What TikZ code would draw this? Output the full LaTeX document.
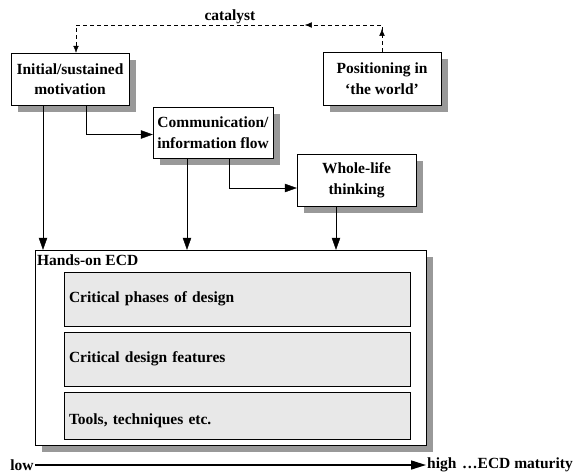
\documentclass[tikz,border=0pt]{standalone}
\usepackage{fontspec}
\setmainfont{Liberation Serif}
\usetikzlibrary{arrows.meta,shadows,decorations.markings}

\begin{document}
\begin{tikzpicture}[x=1pt,y=-1pt,
    font=\bfseries\fontsize{15.5}{20.5}\selectfont,
    box/.style={draw,fill=white,align=center,inner sep=2pt,
        drop shadow={shadow xshift=7pt,shadow yshift=-7pt,fill=black!40,opacity=1}},
    part/.style={draw,fill=black!9,align=left,text width=336pt,inner xsep=5pt,inner ysep=0pt},
    arr/.style={-{Triangle[length=12pt,width=8.5pt]}},
    catalystline/.style={dash pattern=on 4pt off 3pt,-{Latex[length=7pt,width=5.5pt]},
        postaction={decorate},decoration={markings,
            mark=at position 23pt with {\arrow{Latex[length=7pt,width=5.5pt]}},
            mark=at position 104pt with {\arrow{Latex[length=7pt,width=5.5pt]}}}}]
    \useasboundingbox (0,0) rectangle (583,475);
    % boxes
    \node[box,minimum width=118pt,minimum height=52pt] (M) at (70,79) {Initial/sustained\\motivation};
    \node[box,minimum width=118pt,minimum height=53pt] (P) at (382,78.5) {Positioning in\\`the world'};
    \node[box,minimum width=120pt,minimum height=51pt] (C) at (213,132.5) {Communication/\\information flow};
    \node[box,minimum width=119pt,minimum height=52pt] (W) at (356.5,180) {Whole-life\\thinking};
    \node[box,minimum width=391pt,minimum height=195pt,
        label={[anchor=north west,inner xsep=2pt,inner ysep=5pt]north west:Hands-on ECD}] (H) at (230.5,347.5) {};
    \node[part,minimum height=54pt] (F1) at (237,299) {Critical phases of design};
    \node[part,minimum height=54pt] (F2) at (237,359) {Critical design features};
    \node[part,minimum height=47pt,text height=22pt] (F3) at (237,415.5) {Tools, techniques etc.};
    % catalyst loop
    \coordinate (K1) at (76,25);
    \coordinate (K2) at (P.north |- K1);
    \node (L) at (230,17) {catalyst};
    \draw[catalystline] (P.north) -- (K2) -- (K1) -- (M.north -| K1);
    % connectors
    \coordinate (a1) at (43,0);
    \coordinate (a2) at (86,0);
    \coordinate (a3) at (187,0);
    \coordinate (a4) at (229,0);
    \coordinate (a5) at (336,0);
    \draw[arr] (M.south -| a1) -- (H.north -| a1);
    \draw[arr] (M.south -| a2) |- ([yshift=-2pt]C.west);
    \draw[arr] (C.south -| a3) -- (H.north -| a3);
    \draw[arr] (C.south -| a4) |- ([yshift=-8pt]W.west);
    \draw[arr] (W.south -| a5) -- (H.north -| a5);
    % maturity axis
    \node[inner sep=1pt] (low) at (22,465) {low};
    \node[inner sep=1pt,anchor=west] (high) at (426,465) {high};
    \node[inner sep=1pt,anchor=west] (mat) at (461,465) {…ECD maturity};
    \draw[line width=1.5pt,-{Triangle[length=15pt,width=9pt]}] (low) -- (high);
\end{tikzpicture}
\end{document}
